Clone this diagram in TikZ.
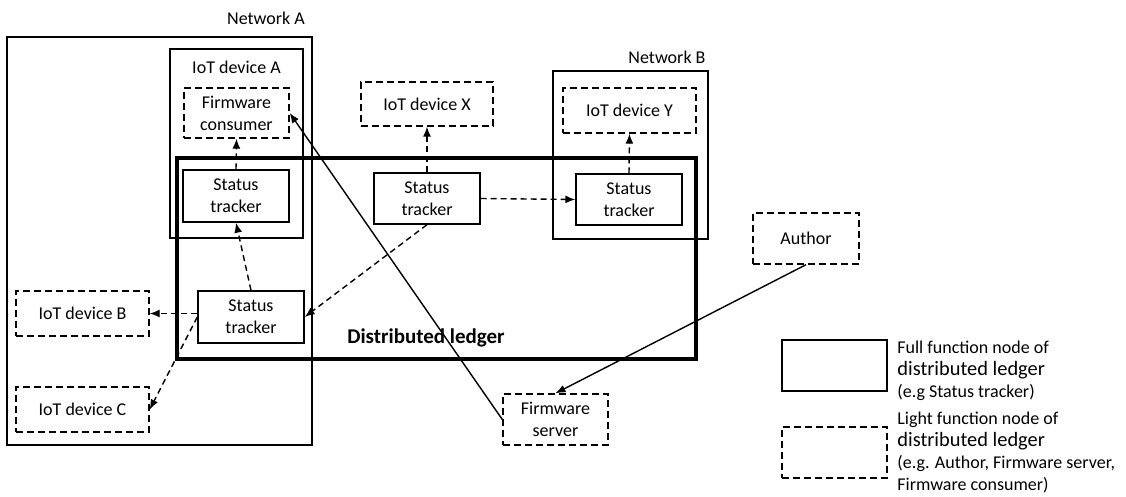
\documentclass[tikz,border=0pt]{standalone}
\usepackage{fontspec}
\setmainfont{Carlito}
\usetikzlibrary{arrows.meta}
\begin{document}
\begin{tikzpicture}[x=0.5pt,y=-0.5pt,
  every node/.style={font=\fontsize{9}{11}\selectfont, inner sep=0pt, align=center},
  solidbox/.style={draw, line width=0.7pt},
  dashbox/.style={draw, line width=0.7pt, dash pattern=on 3.5pt off 2pt},
  ledgerbox/.style={draw, line width=2.4pt},
  darr/.style={line width=0.7pt, dash pattern=on 3pt off 2pt, -{Latex[length=5pt,width=4pt]}},
  sarr/.style={line width=0.7pt, -{Latex[length=5pt,width=4pt]}},
  lbl/.style={font=\fontsize{9}{11}\selectfont}
]
\useasboundingbox (0,0) rectangle (1126,497);

% Network A
\node[solidbox, minimum width=152.5pt, minimum height=204pt] (netA) at (159.5,241) {};
\node[lbl] (netAl) at (266,18) {Network A};
% IoT device A
\node[solidbox, minimum width=66.5pt, minimum height=94.5pt] (devA) at (236.5,143.5) {};
\node[lbl] (devAl) at (236.5,67) {IoT device A};
% Network B
\node[solidbox, minimum width=77.5pt, minimum height=84pt] (netB) at (630.5,155) {};
\node[lbl] (netBl) at (667,57) {Network B};

% Distributed ledger
\node[ledgerbox, minimum width=259.5pt, minimum height=100.5pt] (ledger) at (436.5,258.5) {};
\node[font=\fontsize{10.5}{12}\selectfont\bfseries] (ledgerl) at (426,338) {Distributed ledger};

% light nodes
\node[dashbox, fill=white, minimum width=52.5pt, minimum height=25pt] (fwc) at (236.5,113) {Firmware\\consumer};
\node[dashbox, minimum width=66pt, minimum height=22pt] (devX) at (427,104) {IoT device X};
\node[dashbox, minimum width=66.5pt, minimum height=22.5pt] (devY) at (629.5,110.5) {IoT device Y};
\node[dashbox, minimum width=66.5pt, minimum height=22.5pt] (devB) at (82.5,313.5) {IoT device B};
\node[dashbox, minimum width=66.5pt, minimum height=22.5pt] (devC) at (82.5,409.5) {IoT device C};
\node[dashbox, minimum width=52.5pt, minimum height=25.5pt] (fws) at (555.5,419.5) {Firmware\\server};
\node[dashbox, minimum width=53pt, minimum height=25.5pt] (author) at (806,238.5) {Author};

% status trackers
\node[solidbox, minimum width=53pt, minimum height=26pt] (stA) at (236,196) {Status\\tracker};
\node[solidbox, minimum width=53pt, minimum height=25.5pt] (stX) at (427,198.5) {Status\\tracker};
\node[solidbox, minimum width=53pt, minimum height=25.5pt] (stB) at (629,199.5) {Status\\tracker};
\node[solidbox, minimum width=53pt, minimum height=26pt] (stL) at (251,317) {Status\\tracker};

% dashed connectors
\draw[darr] (stA.north) -- (fwc.south);
\draw[darr] (stL.north) -- (stA.south);
\draw[darr] (stX.north) -- (devX.south);
\draw[darr] (stX.east) -- (stB.west);
\draw[darr] (stB.north) -- (devY.south);
\draw[darr] (stX.south) -- (stL.east);
\draw[darr] (devB.east -| stL.west) -- (devB.east);
\draw[darr] (stL.west) -- (devC.east);

% solid connectors
\draw[sarr] (fws.west) -- (fwc.east);
\draw[sarr] (author.south) -- (fws.north);

% legend
\node[solidbox, minimum width=52.5pt, minimum height=25.5pt] (legF) at (834.5,365.5) {};
\node[dashbox, minimum width=52.5pt, minimum height=25.5pt] (legL) at (834.5,452.5) {};
\node[anchor=west, align=left] (legFt) at (897,371) {Full function node of\\{\fontsize{10.2}{11}\selectfont distributed ledger}\\(e.g Status tracker)};
\node[anchor=west, align=left] (legLt) at (897,453) {Light function node of\\{\fontsize{10.2}{11}\selectfont distributed ledger}\\(e.g. Author, Firmware server,\\Firmware consumer)};
\end{tikzpicture}
\end{document}
